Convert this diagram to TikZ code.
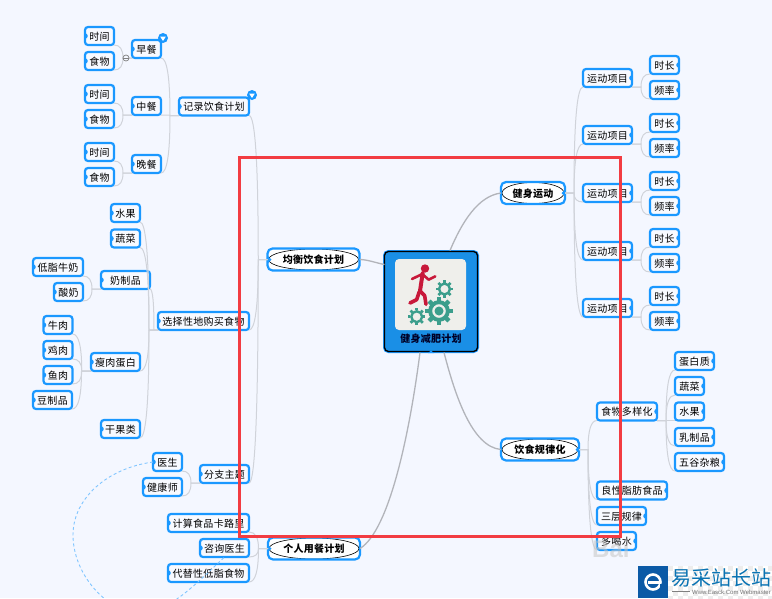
\documentclass[tikz,border=0pt]{standalone}
\usepackage{fontspec}
\setmainfont{Noto Sans CJK SC}[LetterSpace=3]
\newfontfamily\latinf{Liberation Sans}
\usetikzlibrary{calc}
\definecolor{bg}{HTML}{F4F7FF}
\definecolor{nodeblue}{HTML}{1A98FF}
\definecolor{centerblue}{HTML}{1A8FE6}
\definecolor{linelight}{HTML}{D0D3DA}
\definecolor{linemain}{HTML}{B2B4BA}
\definecolor{redframe}{HTML}{F23C42}
\definecolor{runner}{HTML}{C8193A}
\definecolor{gearc}{HTML}{3B9E8C}
\definecolor{panel}{HTML}{EFEFEB}
\definecolor{logoblue}{HTML}{0B5AA6}
\tikzset{
  box/.style={draw=nodeblue,line width=2.2pt,rounded corners=3pt,fill=bg!60!white,inner sep=0pt,outer sep=0pt,
    minimum height=18pt,font=\fontsize{10}{12}\selectfont,text=black,text height=9pt,text depth=.5pt},
  lf/.style={box,minimum width=#1,path picture={\fill[nodeblue] ($(path picture bounding box.west)+(0,4)$) -- ++(4,-4) -- ++(-4,-4) -- cycle;}},
  rt/.style={box,minimum width=#1,path picture={\fill[nodeblue] ($(path picture bounding box.east)+(0,4)$) -- ++(-4,-4) -- ++(4,-4) -- cycle;}},
  major/.style={box,rounded corners=5pt,minimum width=#1,minimum height=22pt,fill=white,font=\fontsize{10}{12}\selectfont\bfseries,
    path picture={\draw[black,line width=.6pt,fill=white] (path picture bounding box.center) ellipse ({#1/2-1} and 10.5);
      }},
  conn/.style={draw=linelight,line width=1pt},
  mainconn/.style={draw=linemain,line width=1.3pt},
  toggle/.style={circle,fill=nodeblue,inner sep=0pt,minimum size=10pt,
    path picture={\fill[white] ($(path picture bounding box.center)+(-2.8,-1.4)$) -- ++(5.6,0) -- ++(-2.8,4.4) -- cycle;}},
  minus/.style={circle,draw=gray,fill=bg,line width=.7pt,inner sep=0pt,minimum size=6pt},
}
\newcommand\fan[2]{\draw[conn] let \p1=(#1),\p2=(#2),\n1={(\x1+\x2)/2},\n2={\y1+(\y2-\y1)*2/3},\n3={\x2+(\n1-\x2)*2/3} in (\p1) -- (\n1,\y1) .. controls (\n1,\n2) and (\n3,\y2) .. (\p2);}
\newcommand\gearshape[3]{% x y r
  \foreach \a in {0,45,...,315}{\fill[gearc] ($(#1,#2)+(\a:#3*.78)$) ++(\a+90:#3*.17) -- ++(\a:#3*.3) -- ++(\a-90:#3*.34) -- ++(\a+180:#3*.3) -- cycle;}
  \draw[gearc,line width=#3*.3pt] (#1,#2) circle ({#3*.68});
}
\begin{document}
\begin{tikzpicture}[x=1pt,y=-1pt]
\fill[bg] (0,0) rectangle (772,598);
\useasboundingbox (0,0) rectangle (772,598);

% centre
\node[draw=black,line width=1.3pt,rounded corners=4pt,fill=centerblue,minimum width=93pt,minimum height=100pt,inner sep=0pt,outer sep=0pt,
  preaction={draw=nodeblue,line width=3pt}] (root) at (431,301.5) {};
\fill[panel,rounded corners=4pt] (395,259) rectangle (466,330);
\gearshape{439}{311}{13}
\fill[gearc] (439,311) circle (4.5);
\gearshape{444.5}{289}{8}
\gearshape{416.7}{316.7}{8}
\fill[runner] (425,268.5) circle (4.2);
\begin{scope}[shift={(390,255)},x=.3333pt,y=-.3333pt]
\draw[runner,line width=4pt,line join=round,line cap=round] (98,55) -- (90,108);
\draw[runner,line width=2.6pt,line join=round,line cap=round] (95,58) -- (66,72);
\draw[runner,line width=2.6pt,line join=round,line cap=round] (100,60) -- (116,74) -- (136,64);
\draw[runner,line width=3.6pt,line join=round,line cap=round] (90,108) -- (104,122) -- (108,148);
\draw[runner,line width=3.6pt,line join=round,line cap=round] (88,110) -- (80,134) -- (60,144);
\end{scope}
\node[font=\fontsize{10}{12}\selectfont\bfseries,text=black!85!blue,inner sep=0pt] (rootlabel) at (431,339) {健身减肥计划};
\fill[nodeblue] (428,353) -- (431,350.5) -- (434,353) -- cycle;

% major topics
\node[major=92] (bal) at (313.5,259.5) {均衡饮食计划};
\node[major=92] (per) at (314,548.5) {个人用餐计划};
\node[major=64] (fit) at (533,193) {健身运动};
\node[major=78] (reg) at (540,449.5) {饮食规律化};
\fill[nodeblue] (268,545) -- (271.5,548.5) -- (268,552) -- cycle;
\fill[nodeblue] (268,256) -- (271.5,259.5) -- (268,263) -- cycle;
\fill[nodeblue] (579,446) -- (575.5,449.5) -- (579,453) -- cycle;
\fill[nodeblue] (565,189.5) -- (561.5,193) -- (565,196.5) -- cycle;

% left top
\node[lf=70] (rec) at (214,106.5) {记录饮食计划};
\node[lf=29] (bf) at (146.5,49) {早餐};
\node[lf=29] (lu) at (146.5,106) {中餐};
\node[lf=29] (di) at (146.5,164) {晚餐};
\node[lf=29] (t1) at (99.5,36) {时间};
\node[lf=29] (f1) at (99.5,61) {食物};
\node[lf=29] (t2) at (99.5,94) {时间};
\node[lf=29] (f2) at (99.5,119) {食物};
\node[lf=29] (t3) at (99.5,152) {时间};
\node[lf=29] (f3) at (99.5,177) {食物};

% left middle
\node[lf=91] (buy) at (203.5,321) {选择性地购买食物};
\node[lf=29] (fr) at (125.5,213) {水果};
\node[lf=29] (ve) at (125.5,238.5) {蔬菜};
\node[lf=49] (da) at (125.5,280) {奶制品};
\node[lf=50] (mi) at (58,267) {低脂牛奶};
\node[lf=29] (yo) at (68.5,292) {酸奶};
\node[lf=49] (pr) at (115.5,362) {瘦肉蛋白};
\node[lf=29] (be) at (58,325) {牛肉};
\node[lf=29] (ch) at (58,350) {鸡肉};
\node[lf=29] (fi) at (58,375) {鱼肉};
\node[lf=39] (so) at (52.5,400) {豆制品};
\node[lf=39] (nu) at (120.5,429) {干果类};

% left bottom
\node[lf=49] (sub) at (224.5,474) {分支主题};
\node[lf=29] (doc) at (167.5,462) {医生};
\node[lf=39] (hea) at (162.5,487) {健康师};
\node[lf=81] (cal) at (208.5,523) {计算食品卡路里};
\node[lf=49] (ask) at (224.5,548) {咨询医生};
\node[lf=81] (alt) at (208.5,573) {代替性低脂食物};

% right top
\foreach \i/\y/\ya/\yb in {1/78/65/90,2/135/123/148,3/193/181/206,4/251/238/263,5/308/296/321}{
  \node[rt=49] (ex\i) at (607.5,\y) {运动项目};
  \node[rt=29] (du\i) at (664.5,\ya) {时长};
  \node[rt=29] (fq\i) at (664.5,\yb) {频率};
  \fan{ex\i.south east}{du\i.south west}
  \fan{ex\i.south east}{fq\i.south west}
  \fan{fit.east}{ex\i.south west}
}

% right bottom
\node[rt=60] (div) at (627,411.5) {食物多样化};
\node[rt=39] (pro) at (694.5,361) {蛋白质};
\node[rt=29] (veg) at (689.5,386) {蔬菜};
\node[rt=29] (fru) at (689.5,411.5) {水果};
\node[rt=39] (dai) at (694.5,437) {乳制品};
\node[rt=49] (gra) at (699.5,462) {五谷杂粮};
\node[rt=70] (fat) at (632,490.5) {良性脂肪食品};
\node[rt=49] (mea) at (621.5,516) {三层规律};
\node[rt=39] (wat) at (616.5,541) {多喝水};

% connectors
\draw[mainconn] (root.west) ++(0,-37) to[out=170,in=0,distance=8pt] (bal.east);
\coordinate (r1) at (450,250.5);
\coordinate (r2) at (444,352.5);
\coordinate (r3) at (420,352.5);
\draw[mainconn] (r1) .. controls (462,222) and (478,196) .. (fit.west);
\draw[mainconn] (r2) .. controls (455,395) and (472,447) .. (reg.west);
\draw[mainconn] (r3) .. controls (410,430) and (390,530) .. (per.east);

\foreach \c in {rec,buy,sub}{\fan{bal.west}{\c.south east}}
\foreach \c in {cal,ask,alt}{\fan{per.west}{\c.south east}}
\foreach \c in {bf,lu,di}{\fan{rec.south west}{\c.south east}}
\foreach \c in {t1,f1}{\fan{bf.south west}{\c.south east}}
\foreach \c in {t2,f2}{\fan{lu.south west}{\c.south east}}
\foreach \c in {t3,f3}{\fan{di.south west}{\c.south east}}
\foreach \c in {fr,ve,da,pr,nu}{\fan{buy.south west}{\c.south east}}
\foreach \c in {mi,yo}{\fan{da.south west}{\c.south east}}
\foreach \c in {be,ch,fi,so}{\fan{pr.south west}{\c.south east}}
\foreach \c in {doc,hea}{\fan{sub.south west}{\c.south east}}
\foreach \c in {div,fat,mea,wat}{\fan{reg.east}{\c.south west}}
\foreach \c in {pro,veg,fru,dai,gra}{\fan{div.south east}{\c.south west}}

% relationship
\draw[nodeblue!55!white,line width=.9pt,dash pattern=on 3pt off 2.5pt]
  (doc.west) .. controls (108,468) and (73,498) .. (73,535)
  .. controls (73,575) and (108,613) .. (140,613)
  .. controls (168,613) and (195,585) .. (ask.south);

% toggles
\node[toggle] (tg1) at (163,38) {};
\node[toggle] (tg2) at (252,95) {};
\node[minus] (mn1) at (126,58) {};
\draw[gray,line width=.6pt] (mn1.west) -- (mn1.east);

% screenshot marks
\node[font=\latinf\fontsize{24}{24}\selectfont\bfseries,text=gray!45,opacity=.55,inner sep=0pt,anchor=west] (wm) at (592,549) {Bai};
\foreach \i in {0,...,20}{\foreach \j in {0,...,6}{
  \pgfmathtruncatemacro\pp{mod(\i+\j,2)}
  \ifnum\pp=0 \fill[black!7] ({668+\i*5},{566+\j*5}) rectangle ++(5,5);\else\fill[white] ({668+\i*5},{566+\j*5}) rectangle ++(5,5);\fi
}}
\fill[logoblue] (638,566) rectangle (668,598);
\draw[white,line width=2.6pt] (653,582) circle (7.5);
\fill[white] (648,580.5) rectangle (661,583.5);
\fill[logoblue] (660,584) rectangle (664,589);
\node[font=\fontsize{20}{22}\selectfont,text=logoblue!85!cyan,inner sep=0pt,anchor=west] (site) at (671,578) {\addfontfeature{LetterSpace=0}易采站长站};
\coordinate (dashA) at (672,591);
\coordinate (dashB) at (690,591);
\draw[gray,line width=.5pt] (dashA) -- (dashB);
\node[font=\latinf\fontsize{6}{7}\selectfont,text=gray!90!black,inner sep=0pt,anchor=west] (siteurl) at (692,592) {Www.Easck.Com Webmaster};

% red frame
\draw[redframe,line width=3pt] (239,157) rectangle (620,536);
\end{tikzpicture}
\end{document}
